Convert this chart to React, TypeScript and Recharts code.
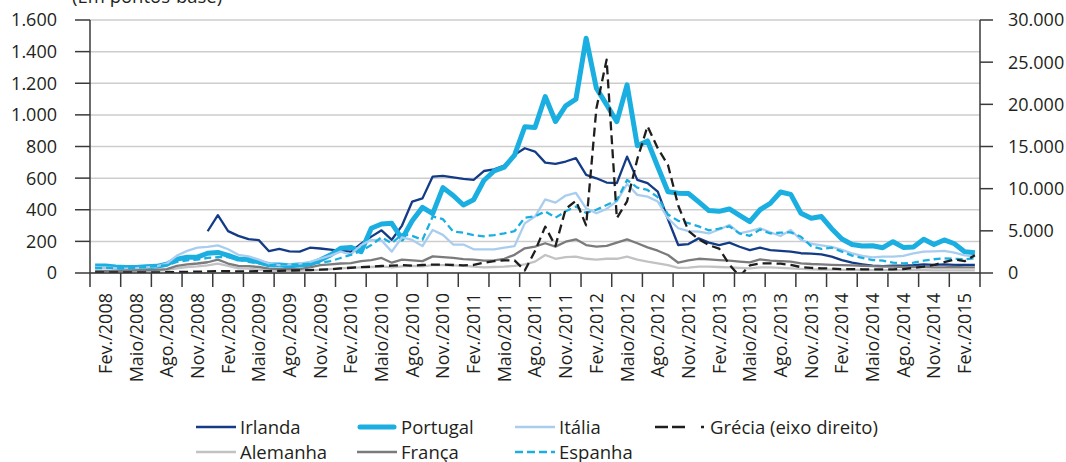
import React from 'react';
import { LineChart, Line, XAxis, YAxis, CartesianGrid } from 'recharts';

// ---------- data ----------
const monthAbbr = ['Jan.', 'Fev.', 'Mar.', 'Abr.', 'Maio', 'Jun.', 'Jul.', 'Ago.', 'Set.', 'Out.', 'Nov.', 'Dez.'];
const years = [2008, 2009, 2010, 2011, 2012, 2013, 2014, 2015];
const monthCount = 87; // Jan./2008 .. Mar./2015
const labelledMonths = ['Fev.', 'Maio', 'Ago.', 'Nov.'];

const irlanda: (number | null)[] = [
  null, null, null, null, null, null, null, null, null, null, null,
  264, 366, 265, 235, 214, 208, 138, 152, 137,
  135, 160, 155, 148, 140, 135, 185, 230, 270, 210,
  300, 452, 472, 610, 614, 605, 595, 589, 645, 655,
  680, 747, 789, 768, 698, 690, 705, 726, 620, 599,
  572, 568, 736, 589, 568, 515, 340, 177, 183, 219,
  192, 177, 192, 166, 145, 160, 145, 140, 135, 125,
  122, 118, 103, 82, 65, 55, 46, 44, 46, 46,
  49, 55, 51, 55, 51, 51, 51,
];
const portugal = [
  45, 45, 38, 35, 35, 40, 42, 55, 88, 100,
  100, 125, 130, 112, 88, 85, 70, 52, 50, 46,
  50, 55, 82, 114, 156, 162, 135, 283, 310, 314,
  215, 330, 415, 375, 540, 490, 430, 463, 585, 645,
  670, 745, 925, 920, 1116, 958, 1057, 1099, 1485, 1169,
  1065, 957, 1190, 805, 835, 672, 514, 505, 503, 450,
  395, 390, 405, 365, 325, 400, 440, 512, 497, 378,
  346, 357, 280, 215, 180, 171, 172, 160, 198, 162,
  165, 213, 180, 209, 185, 135, 128,
];
const italia = [
  35, 35, 30, 28, 30, 35, 42, 60, 110, 140,
  160, 165, 175, 150, 115, 105, 85, 60, 50, 55,
  60, 70, 90, 110, 135, 118, 177, 209, 205, 135,
  226, 209, 170, 272, 241, 180, 180, 150, 150, 150,
  160, 170, 314, 357, 466, 445, 490, 506, 409, 378,
  405, 455, 563, 494, 483, 452, 346, 283, 265, 262,
  250, 275, 304, 251, 265, 283, 258, 234, 272, 209,
  185, 175, 165, 146, 124, 108, 99, 103, 103, 108,
  124, 135, 137, 140, 129, 112, 105,
];
const grecia = [
  60, 60, 60, 60, 60, 70, 80, 90, 110, 140,
  160, 190, 220, 210, 200, 200, 210, 230, 260, 290,
  320, 350, 390, 430, 550, 620, 700, 750, 830, 870,
  940, 870, 950, 1000, 1000, 950, 900, 950, 1220, 1400,
  1500, 1500, 300, 2600, 5500, 3200, 7600, 8560, 5650, 19500,
  25300, 6500, 8500, 13500, 17400, 14800, 12800, 8000, 5000, 4000,
  3300, 2900, 1000, -400, 900, 1150, 1150, 1100, 950, 700,
  600, 550, 530, 450, 470, 440, 435, 435, 435, 470,
  600, 750, 950, 1300, 1600, 1400, 2100,
];
const alemanha = [
  8, 10, 10, 10, 10, 12, 14, 18, 30, 38,
  42, 48, 60, 45, 30, 28, 22, 15, 12, 12,
  14, 16, 20, 25, 30, 32, 35, 38, 42, 35,
  42, 45, 42, 50, 50, 48, 45, 40, 35, 38,
  40, 45, 55, 72, 114, 90, 100, 103, 90, 85,
  90, 90, 103, 85, 72, 61, 50, 32, 34, 40,
  40, 38, 36, 32, 29, 36, 36, 32, 29, 26,
  23, 22, 21, 20, 20, 19, 18, 18, 18, 18,
  18, 18, 17, 17, 17, 16, 16,
];
const franca = [
  12, 14, 14, 15, 16, 18, 20, 25, 45, 55,
  60, 68, 85, 60, 45, 43, 38, 28, 25, 25,
  25, 35, 50, 55, 60, 62, 75, 82, 95, 65,
  85, 80, 75, 105, 100, 95, 88, 85, 78, 80,
  90, 115, 156, 167, 188, 167, 198, 213, 177, 167,
  171, 192, 213, 188, 162, 141, 114, 65, 80, 90,
  86, 82, 78, 72, 67, 86, 78, 75, 72, 61,
  57, 55, 52, 50, 48, 46, 44, 42, 40, 38,
  38, 38, 36, 36, 38, 36, 36,
];
const espanha = [
  30, 32, 30, 30, 32, 38, 45, 50, 70, 80,
  85, 95, 100, 100, 85, 70, 60, 50, 55, 55,
  55, 60, 65, 75, 95, 115, 140, 177, 226, 188,
  245, 235, 210, 357, 340, 262, 255, 240, 232, 240,
  250, 265, 350, 358, 390, 350, 390, 420, 380, 400,
  430, 460, 588, 540, 525, 480, 370, 330, 315, 295,
  270, 280, 295, 250, 235, 275, 250, 255, 257, 229,
  170, 152, 160, 135, 110, 95, 82, 78, 65, 61,
  65, 78, 87, 93, 89, 87, 93,
];

const leftTicks = [0, 200, 400, 600, 800, 1000, 1200, 1400, 1600];
const rightTicks = [0, 5000, 10000, 15000, 20000, 25000, 30000];

// ---------- categories ----------
const categories: string[] = [];
for (const y of years) {
  for (const m of monthAbbr) {
    if (categories.length < monthCount) categories.push(`${m}/${y}`);
  }
}

const data = categories.map((m, i) => ({
  m,
  irlanda: irlanda[i],
  portugal: portugal[i],
  italia: italia[i],
  grecia: grecia[i],
  alemanha: alemanha[i],
  franca: franca[i],
  espanha: espanha[i],
}));

// ---------- styles ----------
const FONT = '"Open Sans", "Noto Sans", sans-serif';
const TEXT = '#231f20';
const AXIS = '#3a3a3a';
const W = 1066;
const H = 462;
const PLOT_LEFT = 90;
const PLOT_RIGHT = 980;
const PLOT_TOP = 20;
const PLOT_BOTTOM = 273;
const BAND = (PLOT_RIGHT - PLOT_LEFT) / monthCount;

type Series = {
  key: string;
  name: string;
  color: string;
  width: number;
  dash?: string;
  axis: 'l' | 'r';
};

const series: Series[] = [
  { key: 'irlanda', name: 'Irlanda', color: '#143b86', width: 2.3, axis: 'l' },
  { key: 'portugal', name: 'Portugal', color: '#1aafe0', width: 5, axis: 'l' },
  { key: 'italia', name: 'Itália', color: '#a9cdef', width: 2.3, axis: 'l' },
  { key: 'alemanha', name: 'Alemanha', color: '#c2c2c4', width: 2.3, axis: 'l' },
  { key: 'franca', name: 'França', color: '#7b7b7d', width: 2.3, axis: 'l' },
  { key: 'espanha', name: 'Espanha', color: '#1aafe0', width: 2.3, dash: '7 4', axis: 'l' },
  { key: 'grecia', name: 'Grécia (eixo direito)', color: '#1e1e1e', width: 2.3, dash: '9 5', axis: 'r' },
];

const legendLayout: { key: string; col: number; row: number }[] = [
  { key: 'irlanda', col: 0, row: 0 },
  { key: 'portugal', col: 1, row: 0 },
  { key: 'italia', col: 2, row: 0 },
  { key: 'grecia', col: 3, row: 0 },
  { key: 'alemanha', col: 0, row: 1 },
  { key: 'franca', col: 1, row: 1 },
  { key: 'espanha', col: 2, row: 1 },
];
const legendCols = [196, 357, 515, 655];
const legendRows = [427, 452];

const fmt = (v: number) => String(v).replace(/\B(?=(\d{3})+(?!\d))/g, '.');

const XTick = (props: any) => {
  const { x, y, payload } = props;
  const idx = categories.indexOf(payload.value);
  if (idx < 0) return null;
  const month = payload.value.split('/')[0];
  if (!labelledMonths.includes(month)) return null;
  const ty = y + 20;
  const isLast = idx === monthCount - 2;
  return (
    <g>
      <line x1={x - 1.5 * BAND} x2={x - 1.5 * BAND} y1={y} y2={y + 14} stroke={AXIS} strokeWidth={1.5} />
      {isLast && (
        <line x1={x + 1.5 * BAND} x2={x + 1.5 * BAND} y1={y} y2={y + 14} stroke={AXIS} strokeWidth={1.5} />
      )}
      <text
        x={x}
        y={ty}
        dy="0.36em"
        textAnchor="end"
        transform={`rotate(-90, ${x}, ${ty})`}
        fontFamily={FONT}
        fontSize={18}
        fill={TEXT}
      >
        {payload.value}
      </text>
    </g>
  );
};

const LegendSample = ({ s }: { s: Series }) => {
  const isGreece = s.key === 'grecia';
  const w = isGreece ? 50 : 40;
  return (
    <svg width={w} height={12} style={{ display: 'block', flex: 'none' }}>
      <line
        x1={s.width > 3 ? 3 : 0}
        x2={s.width > 3 ? w - 3 : w}
        y1={6}
        y2={6}
        stroke={s.color}
        strokeWidth={s.width > 3 ? 5 : 2.5}
        strokeLinecap={s.width > 3 ? 'round' : 'butt'}
        strokeDasharray={isGreece ? '13 4 13 16 3 99' : s.dash ? '8 4' : undefined}
      />
    </svg>
  );
};

export default function App() {
  return (
    <div style={{ position: 'absolute', left: 0, top: 0, width: W, height: H, background: '#fff', overflow: 'hidden' }}>
      <svg width={W} height={24} style={{ position: 'absolute', left: 0, top: 0 }}>
        <text x={72} y={3} fontFamily={FONT} fontSize={18.5} fill={TEXT}>
          (Em pontos-base)
        </text>
      </svg>
      <div style={{ position: 'absolute', left: 0, top: 0 }}>
        <LineChart
          width={W}
          height={H}
          data={data}
          margin={{ top: PLOT_TOP, right: 0, bottom: 0, left: 0 }}
        >
          <CartesianGrid
            yAxisId="l"
            vertical={false}
            stroke="#cdcdcd"
            strokeWidth={1.5}
          />
          <XAxis
            dataKey="m"
            type="category"
            interval={0}
            height={H - PLOT_BOTTOM}
            padding={{ left: BAND / 2, right: BAND / 2 }}
            tickLine={false}
            tickSize={0}
            tickMargin={0}
            axisLine={{ stroke: AXIS, strokeWidth: 1.5 }}
            tick={(p: any) => <XTick {...p} />}
          />
          <YAxis
            yAxisId="l"
            width={PLOT_LEFT}
            domain={[0, 1600]}
            ticks={leftTicks}
            tickFormatter={fmt}
            tickSize={15}
            tickMargin={18}
            axisLine={{ stroke: AXIS, strokeWidth: 1.5 }}
            tickLine={{ stroke: AXIS, strokeWidth: 1.5 }}
            tick={{ fontFamily: FONT, fontSize: 18, fill: TEXT }}
          />
          <YAxis
            yAxisId="r"
            orientation="right"
            width={W - PLOT_RIGHT}
            domain={[0, 30000]}
            ticks={rightTicks}
            allowDataOverflow
            tickFormatter={fmt}
            tickSize={13}
            tickMargin={15}
            axisLine={{ stroke: AXIS, strokeWidth: 1.5 }}
            tickLine={{ stroke: AXIS, strokeWidth: 1.5 }}
            tick={{ fontFamily: FONT, fontSize: 18, fill: TEXT }}
          />
          {series.map((s) => (
            <Line
              key={s.key}
              yAxisId={s.axis}
              type="linear"
              dataKey={s.key}
              name={s.name}
              stroke={s.color}
              strokeWidth={s.width}
              strokeDasharray={s.dash}
              strokeLinejoin="round"
              dot={false}
              activeDot={false}
              isAnimationActive={false}
            />
          ))}
        </LineChart>
      </div>
      {legendLayout.map((e) => {
        const s = series.find((q) => q.key === e.key)!;
        return (
          <div
            key={e.key}
            style={{
              position: 'absolute',
              left: legendCols[e.col],
              top: legendRows[e.row] - 13,
              height: 26,
              display: 'flex',
              alignItems: 'center',
              whiteSpace: 'nowrap',
              fontFamily: FONT,
              fontSize: 18.5,
              lineHeight: '26px',
              color: TEXT,
            }}
          >
            <LegendSample s={s} />
            <span style={{ marginLeft: s.key === 'grecia' ? 5 : 4 }}>{s.name}</span>
          </div>
        );
      })}
    </div>
  );
}
